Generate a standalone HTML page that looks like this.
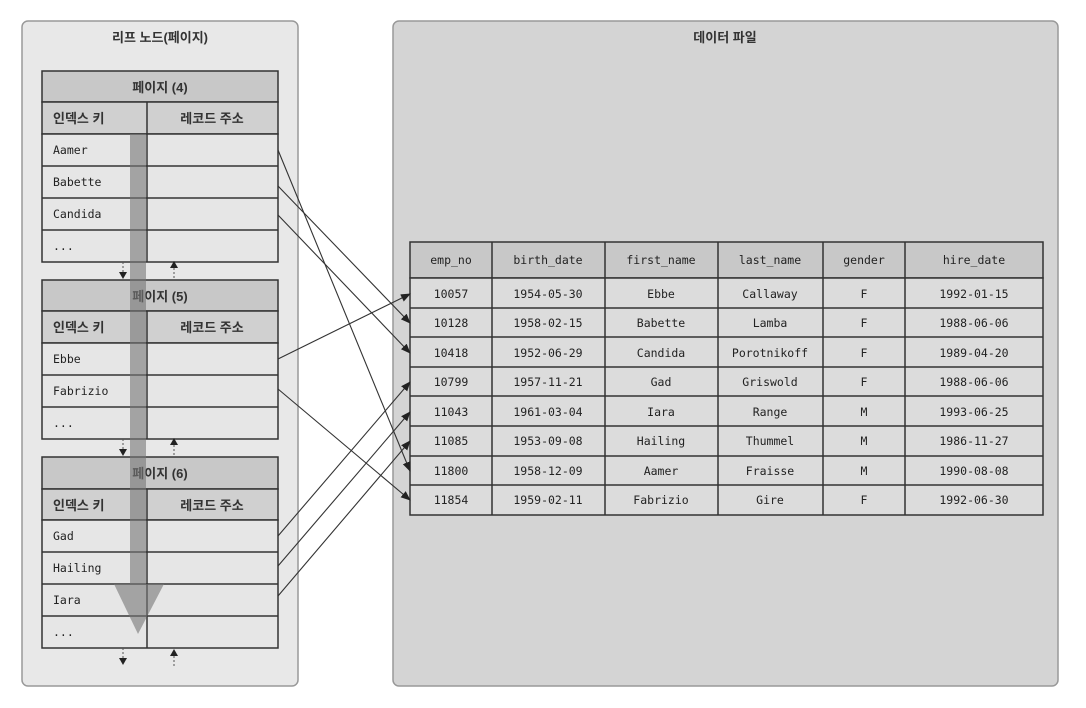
<!DOCTYPE html>
<html><head><meta charset="utf-8"><style>
html,body{margin:0;padding:0;background:#fff;}
svg{display:block;}
text{font-family:"DejaVu Sans Mono","Liberation Mono","Noto Sans CJK KR",monospace;font-size:11.5px;fill:#222;}
.k{font-family:"Liberation Sans","Noto Sans CJK KR",sans-serif;font-size:13px;fill:#333;font-weight:bold;}
</style></head><body>
<svg width="1086" height="708" viewBox="0 0 1086 708" xmlns="http://www.w3.org/2000/svg">
<defs>
<marker id="a" markerWidth="10" markerHeight="8" refX="9" refY="4" orient="auto" markerUnits="userSpaceOnUse">
<path d="M0,0 L10,4 L0,8 Z" fill="#222"/></marker>
</defs>
<rect x="22" y="21" width="276" height="665" rx="6" fill="#e8e8e8" stroke="#999" stroke-width="1.5"/>
<rect x="393" y="21" width="665" height="665" rx="6" fill="#d4d4d4" stroke="#999" stroke-width="1.5"/>
<text class="k" x="160" y="42" text-anchor="middle">리프 노드(페이지)</text>
<text class="k" x="725" y="42" text-anchor="middle">데이터 파일</text>

<g stroke="#333" stroke-width="1.5">
<rect x="42" y="71" width="236" height="31" fill="#c8c8c8"/>
<rect x="42" y="102" width="236" height="32" fill="#d0d0d0"/>
<rect x="42" y="134" width="236" height="128" fill="#e6e6e6"/>
<line x1="42" y1="166" x2="278" y2="166"/><line x1="42" y1="198" x2="278" y2="198"/><line x1="42" y1="230" x2="278" y2="230"/>
<line x1="147" y1="102" x2="147" y2="262"/>
<rect x="42" y="280" width="236" height="31" fill="#c8c8c8"/>
<rect x="42" y="311" width="236" height="32" fill="#d0d0d0"/>
<rect x="42" y="343" width="236" height="96" fill="#e6e6e6"/>
<line x1="42" y1="375" x2="278" y2="375"/><line x1="42" y1="407" x2="278" y2="407"/>
<line x1="147" y1="311" x2="147" y2="439"/>
<rect x="42" y="457" width="236" height="32" fill="#c8c8c8"/>
<rect x="42" y="489" width="236" height="31" fill="#d0d0d0"/>
<rect x="42" y="520" width="236" height="128" fill="#e6e6e6"/>
<line x1="42" y1="552" x2="278" y2="552"/><line x1="42" y1="584" x2="278" y2="584"/><line x1="42" y1="616" x2="278" y2="616"/>
<line x1="147" y1="489" x2="147" y2="648"/>
</g>
<text class="k" x="160" y="92" text-anchor="middle">페이지 (4)</text>
<text class="k" x="160" y="301" text-anchor="middle">페이지 (5)</text>
<text class="k" x="160" y="478" text-anchor="middle">페이지 (6)</text>
<text class="k" x="53" y="123">인덱스 키</text><text class="k" x="212" y="123" text-anchor="middle">레코드 주소</text>
<text class="k" x="53" y="332">인덱스 키</text><text class="k" x="212" y="332" text-anchor="middle">레코드 주소</text>
<text class="k" x="53" y="510">인덱스 키</text><text class="k" x="212" y="510" text-anchor="middle">레코드 주소</text>
<text x="53" y="154">Aamer</text><text x="53" y="186">Babette</text><text x="53" y="218">Candida</text><text x="53" y="250">...</text>
<text x="53" y="363">Ebbe</text><text x="53" y="395">Fabrizio</text><text x="53" y="427">...</text>
<text x="53" y="540">Gad</text><text x="53" y="572">Hailing</text><text x="53" y="604">Iara</text><text x="53" y="636">...</text>

<g fill="#777" opacity="0.6">
<rect x="130" y="134" width="16" height="450"/>
<path d="M114,584 L164,584 L138,634 Z"/>
</g>

<g stroke="#555" stroke-width="1" stroke-dasharray="2,2">
<line x1="123" y1="262" x2="123" y2="272"/><line x1="174" y1="268" x2="174" y2="280"/>
<line x1="123" y1="439" x2="123" y2="449"/><line x1="174" y1="445" x2="174" y2="457"/>
<line x1="123" y1="648" x2="123" y2="658"/><line x1="174" y1="656" x2="174" y2="666"/>
</g>
<g fill="#222">
<path d="M119,272 L127,272 L123,279 Z"/><path d="M170,268 L178,268 L174,261 Z"/>
<path d="M119,449 L127,449 L123,456 Z"/><path d="M170,445 L178,445 L174,438 Z"/>
<path d="M119,658 L127,658 L123,665 Z"/><path d="M170,656 L178,656 L174,649 Z"/>
</g>

<g stroke="#333" stroke-width="1.5">
<rect x="410" y="242" width="633" height="36" fill="#c8c8c8"/>
<rect x="410" y="278" width="633" height="237" fill="#dcdcdc"/>
<line x1="410" y1="308" x2="1043" y2="308"/><line x1="410" y1="337" x2="1043" y2="337"/>
<line x1="410" y1="367" x2="1043" y2="367"/><line x1="410" y1="396" x2="1043" y2="396"/>
<line x1="410" y1="426" x2="1043" y2="426"/><line x1="410" y1="456" x2="1043" y2="456"/>
<line x1="410" y1="485" x2="1043" y2="485"/>
<line x1="492" y1="242" x2="492" y2="515"/><line x1="605" y1="242" x2="605" y2="515"/>
<line x1="718" y1="242" x2="718" y2="515"/><line x1="823" y1="242" x2="823" y2="515"/>
<line x1="905" y1="242" x2="905" y2="515"/>
</g>
<g text-anchor="middle">
<text x="451" y="264">emp_no</text><text x="548" y="264">birth_date</text><text x="661" y="264">first_name</text><text x="770" y="264">last_name</text><text x="864" y="264">gender</text><text x="974" y="264">hire_date</text>
<text x="451" y="298">10057</text><text x="548" y="298">1954-05-30</text><text x="661" y="298">Ebbe</text><text x="770" y="298">Callaway</text><text x="864" y="298">F</text><text x="974" y="298">1992-01-15</text>
<text x="451" y="327">10128</text><text x="548" y="327">1958-02-15</text><text x="661" y="327">Babette</text><text x="770" y="327">Lamba</text><text x="864" y="327">F</text><text x="974" y="327">1988-06-06</text>
<text x="451" y="357">10418</text><text x="548" y="357">1952-06-29</text><text x="661" y="357">Candida</text><text x="770" y="357">Porotnikoff</text><text x="864" y="357">F</text><text x="974" y="357">1989-04-20</text>
<text x="451" y="386">10799</text><text x="548" y="386">1957-11-21</text><text x="661" y="386">Gad</text><text x="770" y="386">Griswold</text><text x="864" y="386">F</text><text x="974" y="386">1988-06-06</text>
<text x="451" y="416">11043</text><text x="548" y="416">1961-03-04</text><text x="661" y="416">Iara</text><text x="770" y="416">Range</text><text x="864" y="416">M</text><text x="974" y="416">1993-06-25</text>
<text x="451" y="445">11085</text><text x="548" y="445">1953-09-08</text><text x="661" y="445">Hailing</text><text x="770" y="445">Thummel</text><text x="864" y="445">M</text><text x="974" y="445">1986-11-27</text>
<text x="451" y="475">11800</text><text x="548" y="475">1958-12-09</text><text x="661" y="475">Aamer</text><text x="770" y="475">Fraisse</text><text x="864" y="475">M</text><text x="974" y="475">1990-08-08</text>
<text x="451" y="504">11854</text><text x="548" y="504">1959-02-11</text><text x="661" y="504">Fabrizio</text><text x="770" y="504">Gire</text><text x="864" y="504">F</text><text x="974" y="504">1992-06-30</text>
</g>

<g stroke="#333" stroke-width="1.1" fill="none" marker-end="url(#a)">
<line x1="278" y1="150" x2="410" y2="471"/>
<line x1="278" y1="186" x2="410" y2="323"/>
<line x1="278" y1="215" x2="410" y2="353"/>
<line x1="278" y1="359" x2="410" y2="294"/>
<line x1="278" y1="389" x2="410" y2="500"/>
<line x1="278" y1="536" x2="410" y2="382"/>
<line x1="278" y1="566" x2="410" y2="412"/>
<line x1="278" y1="596" x2="410" y2="441"/>
</g>
</svg>
</body></html>
